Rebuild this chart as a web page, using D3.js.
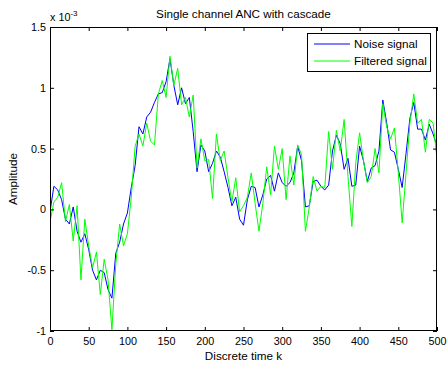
<!DOCTYPE html>
<html><head><meta charset="utf-8">
<script src="https://cdn.jsdelivr.net/npm/d3@7"></script>
<style>body{margin:0;background:#fff}svg{display:block}text{font-family:"Liberation Sans",Arial,sans-serif;fill:#000}</style>
</head><body>
<script>
const title = "Single channel ANC with cascade";
const xLabel = "Discrete time k";
const yLabel = "Amplitude";
const seriesNames = ["Noise signal", "Filtered signal"];
const seriesColors = ["#0000ff", "#00ff00"];
const sampleStep = 5;
const xTicks = [0,50,100,150,200,250,300,350,400,450,500];
const yTicks = [-1,-0.5,0,0.5,1,1.5];
const yTickLabels = ["-1","-0.5","0","0.5","1","1.5"];
// values in units of 1e-3, sampled every 5 steps k = 0..500
const noiseSignal = [
-0.02,0.19,0.16,0.08,-0.08,-0.12,0.02,-0.18,-0.27,-0.20,
-0.33,-0.50,-0.58,-0.50,-0.52,-0.66,-0.73,-0.36,-0.27,-0.12,
-0.03,0.18,0.36,0.68,0.62,0.76,0.80,0.88,0.95,0.96,
1.05,1.24,1.02,0.86,1.00,0.87,0.92,0.64,0.31,0.53,
0.48,0.31,0.38,0.48,0.43,0.31,0.18,0.03,0.10,-0.08,
-0.13,0.08,0.19,0.18,0.02,0.12,0.25,0.28,0.15,0.30,
0.22,0.19,0.22,0.30,0.52,0.40,0.02,0.03,0.23,0.24,
0.19,0.16,0.20,0.48,0.61,0.54,0.33,0.42,0.19,0.20,
0.52,0.40,0.23,0.34,0.36,0.48,0.90,0.71,0.49,0.47,
0.33,0.18,0.46,0.75,0.88,0.66,0.66,0.57,0.70,0.62,
0.52];
const filteredSignal = [
-0.10,0.06,0.10,0.22,-0.10,0.04,-0.26,0.03,-0.58,-0.08,
-0.30,-0.48,-0.35,-0.70,-0.41,-0.58,-0.99,-0.45,-0.12,-0.30,
-0.20,0.10,0.52,0.62,0.52,0.71,0.56,0.53,0.95,1.06,
0.92,1.26,1.02,1.16,0.86,0.92,0.76,0.94,0.34,0.58,
0.40,0.41,0.09,0.62,0.40,0.48,0.26,0.06,0.26,-0.02,
0.03,0.10,0.30,0.05,-0.18,0.05,0.35,0.12,0.52,0.33,
0.50,0.08,0.44,0.20,0.53,0.45,-0.18,0.02,0.27,0.15,
0.19,0.18,0.64,0.33,0.65,0.48,0.74,0.27,-0.14,0.38,
0.63,0.40,0.22,0.27,0.50,0.30,0.87,0.68,0.58,0.67,
0.30,-0.11,0.30,0.71,0.95,0.71,0.74,0.47,0.74,0.71,
0.41];

const W = 448, H = 367;
const L = 50, R = 437, T = 27, B = 331;
const svg = d3.select("body").append("svg").attr("width", W).attr("height", H);
const x = d3.scaleLinear().domain([0, 500]).range([L, R]);
const y = d3.scaleLinear().domain([-1, 1.5]).range([B, T]);

svg.append("clipPath").attr("id","c").append("rect")
  .attr("x", L).attr("y", T).attr("width", R-L).attr("height", B-T);

const line = d3.line().x((d,i)=>x(i*sampleStep)).y(d=>y(d));
const g = svg.append("g").attr("clip-path","url(#c)");
[noiseSignal, filteredSignal].forEach((s,i)=>{
  g.append("path").datum(s).attr("d", line).attr("fill","none")
   .attr("stroke", seriesColors[i]).attr("stroke-width",1).attr("stroke-linejoin","round");
});

// axes
const fs = 11.7, tfs = 10.8;
const xb = svg.append("g").attr("transform",`translate(0,${B})`)
  .call(d3.axisBottom(x).tickValues(xTicks).tickSize(-4).tickPadding(6).tickFormat(d3.format("d")));
const xt = svg.append("g").attr("transform",`translate(0,${T})`)
  .call(d3.axisTop(x).tickValues(xTicks).tickSize(-4).tickFormat(""));
const yl = svg.append("g").attr("transform",`translate(${L},0)`)
  .call(d3.axisLeft(y).tickValues(yTicks).tickSize(-4).tickPadding(4).tickFormat((d,i)=>yTickLabels[i]));
const yr = svg.append("g").attr("transform",`translate(${R},0)`)
  .call(d3.axisRight(y).tickValues(yTicks).tickSize(-4).tickFormat(""));
[xb,xt,yl,yr].forEach(a=>{
  a.select(".domain").remove();
  a.selectAll("line").attr("stroke","#000");
  a.selectAll("text").attr("font-size",tfs).attr("font-family","Liberation Sans, Arial, sans-serif").attr("fill","#000");
});
svg.append("rect").attr("x",L+0.5).attr("y",T+0.5).attr("width",R-L-1).attr("height",B-T-1)
  .attr("fill","none").attr("stroke","#000").attr("stroke-width",1);

// exponent label
const ex = svg.append("text").attr("x",50).attr("y",21).attr("font-size",tfs);
ex.append("tspan").text("x 10");
ex.append("tspan").attr("dy",-5).attr("font-size",8).text("-3");

svg.append("text").attr("x",(L+R)/2).attr("y",18).attr("text-anchor","middle").attr("font-size",fs).text(title);
svg.append("text").attr("x",(L+R)/2).attr("y",360).attr("text-anchor","middle").attr("font-size",fs).text(xLabel);
svg.append("text").attr("transform",`translate(17,${(T+B)/2}) rotate(-90)`).attr("text-anchor","middle").attr("font-size",fs).text(yLabel);

// legend
const lg = svg.append("g");
lg.append("rect").attr("x",307.5).attr("y",33.5).attr("width",123).attr("height",38)
  .attr("fill","#fff").attr("stroke","#000").attr("stroke-width",1);
seriesNames.forEach((n,i)=>{
  const yy = 44 + i*17;
  lg.append("line").attr("x1",314).attr("x2",350).attr("y1",yy).attr("y2",yy)
    .attr("stroke",seriesColors[i]).attr("stroke-width",1);
  lg.append("text").attr("x",354).attr("y",yy+4).attr("font-size",fs).text(n);
});
</script>
</body></html>
